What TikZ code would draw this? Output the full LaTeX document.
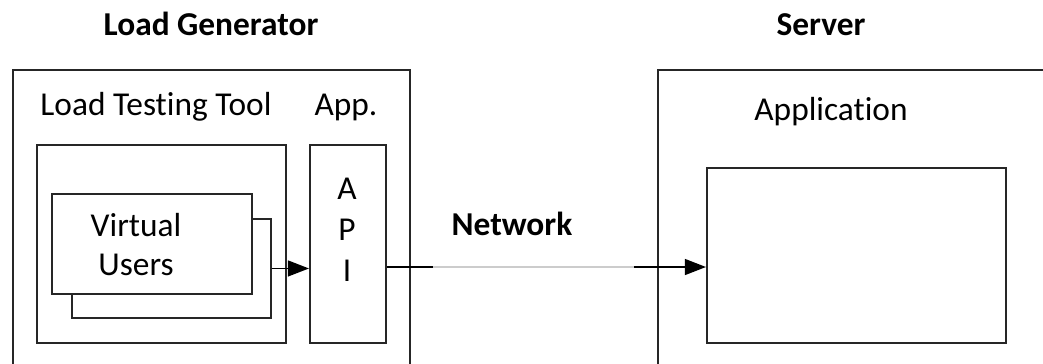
\documentclass[tikz,border=0pt]{standalone}
\usepackage{fontspec}
\setmainfont[Ligatures=CommonOff]{Carlito}
\usetikzlibrary{arrows.meta,positioning}
\tikzset{box/.style={rectangle,draw=black!85,line width=1.1pt,anchor=north west,inner sep=0pt}}
\tikzset{label/.style={font=\fontsize{19}{22}\selectfont,anchor=base,inner sep=0pt}}
\tikzset{title/.style={label,font=\fontsize{19}{22}\selectfont\bfseries}}
\tikzset{link/.style={line width=1.1pt,draw=black}}

\begin{document}
\begin{tikzpicture}[x=0.02cm,y=-0.02cm]
  \useasboundingbox (0,0) rectangle (1043,363);
  \clip (0,0) rectangle (1043,363);
  \node[box,minimum width=7.94cm,minimum height=6.4cm] (gen) at (12,69) {};
  \node[box,minimum width=9cm,minimum height=6.4cm] (server) at (657,69) {};
  \node[box,minimum width=4.98cm,minimum height=3.96cm] (tool) at (36,144) {};
  \node[box,minimum width=3.98cm,minimum height=1.98cm,fill=white] (vuback) at (71,218) {};
  \node[box,minimum width=4cm,minimum height=2cm,fill=white] (vufront) at (51,193) {};
  \node[box,minimum width=1.52cm,minimum height=3.96cm] (api) at (309,144) {};
  \node[box,minimum width=5.98cm,minimum height=3.5cm] (app) at (706,167) {};
  \node[title] (gentitle) at (211,35) {Load Generator};
  \node[title] (servertitle) at (821,35) {Server};
  \node[label] (tooltitle) at (156,115) {Load Testing Tool};
  \node[label] (apptitle) at (346,115) {App.};
  \node[label] (virtual) at (136,236) {Virtual};
  \node[label] (users) at (136,275) {Users};
  \node[label] (a) at (347,199) {A};
  \node[label] (p) at (347,240) {P};
  \node[label] (i) at (347,281) {I};
  \node[label] (apptext) at (831,120) {Application};
  \node[title] (network) at (512,235) {Network};
  \coordinate (neta) at (433,267);
  \coordinate (netb) at (634,267);
  \draw[link,-{Triangle[length=12pt,width=9pt]}] (vuback.east) -- (vuback.east -| api.west);
  \draw[link] (neta -| api.east) -- (neta);
  \draw[black!20,line width=0.6pt] (neta) -- (netb);
  \draw[link,-{Triangle[length=12pt,width=9pt]}] (netb) -- (netb -| app.west);
\end{tikzpicture}
\end{document}
